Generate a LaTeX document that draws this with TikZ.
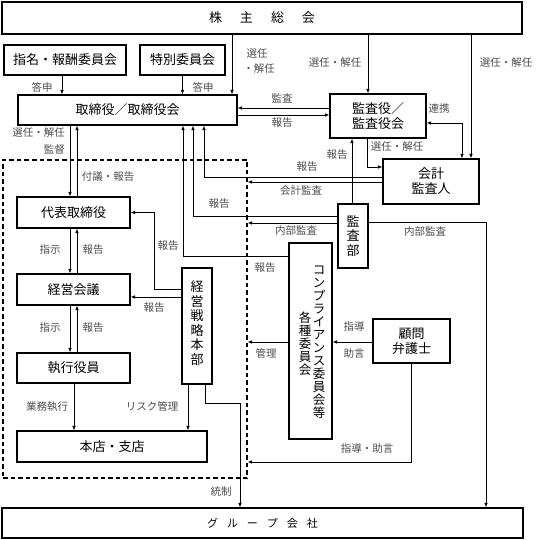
\documentclass[tikz,border=0pt]{standalone}
\usepackage{fontspec}
\setmainfont{Noto Sans CJK JP}
\usetikzlibrary{arrows.meta}
\begin{document}
\begin{tikzpicture}[x=1pt,y=-1pt,
  box/.style={draw, line width=1.1pt, inner sep=0pt, font=\fontsize{13}{15}\selectfont, align=center},
  vtext/.style={inner sep=0pt, align=center, font=\fontsize{13}{14.5}\selectfont},
  vtextc/.style={inner sep=0pt, align=center, font=\fontsize{12.5}{13}\selectfont},
  lbl/.style={font=\fontsize{10.5}{12}\selectfont, text=black!70, inner sep=0pt},
  arr/.style={line width=0.9pt, -{Latex[length=4.5pt,width=3.6pt]}},
  dbl/.style={line width=0.9pt, {Latex[length=4.5pt,width=3.6pt]}-{Latex[length=4.5pt,width=3.6pt]}},
  dashbox/.style={draw, line width=1.1pt, dash pattern=on 4.5pt off 3pt, inner sep=0pt}]
\useasboundingbox (0,0) rectangle (551,540);

% dashed group
\node[dashbox, minimum width=244, minimum height=318] (dash) at (125,319) {};

% boxes
\node[box, minimum width=520, minimum height=32] (sh) at (262,18) {株\hspace{18pt}主\hspace{18pt}総\hspace{18pt}会};
\node[box, minimum width=122, minimum height=30] (nom) at (65,60) {指名・報酬委員会};
\node[box, minimum width=85, minimum height=30] (tok) at (182.5,60) {特別委員会};
\node[box, minimum width=219, minimum height=30] (tor) at (127.5,110) {取締役／取締役会};
\node[box, minimum width=96, minimum height=44] (kan) at (378,116) {監査役／\\監査役会};
\node[box, minimum width=96, minimum height=45] (kai) at (431,181.5) {会計\\監査人};
\node[box, minimum width=113, minimum height=31] (daihyo) at (73.5,212.5) {代表取締役};
\node[box, minimum width=113, minimum height=31] (keiei) at (73.5,289.5) {経営会議};
\node[box, minimum width=113, minimum height=30] (shikko) at (73.5,368) {執行役員};
\node[box, minimum width=190, minimum height=31] (honten) at (112,446.5) {本店・支店};
\node[box, minimum width=30, minimum height=116] (senryaku) at (197,326) {};
\node[vtext] (senryakut) at (197,323) {経\\営\\戦\\略\\本\\部};
\node[box, minimum width=30, minimum height=64] (kansabu) at (353,236) {};
\node[vtext] (kansabut) at (353,236) {監\\査\\部};
\node[box, minimum width=43, minimum height=196] (comp) at (310.5,341) {};
\node[vtextc] (compa) at (319,342.5) {コ\\ン\\プ\\ラ\\イ\\ア\\ン\\ス\\委\\員\\会\\等};
\node[vtextc] (compb) at (305,343.5) {各\\種\\委\\員\\会};
\node[box, minimum width=77, minimum height=44] (bengo) at (411.5,341) {顧問\\弁護士};
\node[box, minimum width=521, minimum height=30, font=\fontsize{11}{13}\selectfont] (group) at (262.5,523) {グ\hspace{9pt}ル\hspace{9pt}ー\hspace{9pt}プ\hspace{9pt}会\hspace{9pt}社};

% connectors
\draw[arr] (nom.south -| 62,0) -- (tor.north -| 62,0);
\draw[arr] (tok.south) -- (tor.north -| tok.south);
\draw[arr] (sh.south -| 232,0) -- (tor.north -| 232,0);
\draw[arr] (sh.south -| 368,0) -- (kan.north -| 368,0);
\draw[arr] (sh.south -| 471,0) -- (kai.north -| 471,0);
\draw[arr] (kan.west |- 0,108) -- (tor.east |- 0,108);
\draw[arr] (tor.east |- 0,115) -- (kan.west |- 0,115);
\draw[dbl] (kan.east |- 0,123) -| (kai.north -| 462,0);
\draw[arr] (kan.south -| 367,0) |- (kai.west |- 0,167);
\draw[arr] (kansabu.north -| 352,0) -- (kan.south -| 352,0);
\draw[arr] (kai.west |- 0,177) -| (tor.south -| 204,0);
\draw[arr] (kai.west |- 0,182) -- (dash.east |- 0,182);
\draw[arr] (kansabu.west |- 0,216) -| (tor.south -| 193,0);
\draw[arr] (kansabu.west |- 0,223) -- (dash.east |- 0,223);
\draw[arr] (kansabu.east |- 0,222) -| (group.north -| 486,0);
\draw[arr] (comp.west |- 0,256) -| (tor.south -| 183,0);
\draw[arr] (comp.west |- 0,342) -- (dash.east |- 0,342);
\draw[arr] (bengo.west |- 0,342) -- (comp.east |- 0,342);
\draw[arr] (bengo.south) |- (dash.east |- 0,462);
\draw[arr] (tor.south -| 70,0) -- (daihyo.north -| 70,0);
\draw[arr] (daihyo.north -| 77,0) -- (tor.south -| 77,0);
\draw[arr] (daihyo.south -| 70,0) -- (keiei.north -| 70,0);
\draw[arr] (keiei.north -| 77,0) -- (daihyo.south -| 77,0);
\draw[arr] (keiei.south -| 70,0) -- (shikko.north -| 70,0);
\draw[arr] (shikko.north -| 77,0) -- (keiei.south -| 77,0);
\draw[arr] (senryaku.west |- 0,289) -- ++(-27,0) |- (daihyo.east);
\draw[arr] (senryaku.west |- 0,297) -- (keiei.east |- 0,297);
\draw[arr] (shikko.south -| 74,0) -- (honten.north -| 74,0);
\draw[arr] (senryaku.south -| 188,0) -- (honten.north -| 188,0);
\draw[arr] (senryaku.south -| 205,0) -- ++(0,19) -| (group.north -| 240,0);

% labels
\node[lbl] (l1) at (42,87) {答申};
\node[lbl] (l2) at (203,87) {答申};
\node[lbl] (l3) at (257,54) {選任};
\node[lbl] (l4) at (259,69) {・解任};
\node[lbl] (l5) at (335,63) {選任・解任};
\node[lbl] (l6) at (506,63) {選任・解任};
\node[lbl] (l7) at (282,98) {監査};
\node[lbl] (l8) at (282,123) {報告};
\node[lbl] (l9) at (439,109) {連携};
\node[lbl] (l10) at (397,147) {選任・解任};
\node[lbl] (l11) at (337,155) {報告};
\node[lbl] (l12) at (307,167) {報告};
\node[lbl] (l13) at (301,191) {会計監査};
\node[lbl] (l14) at (219,204) {報告};
\node[lbl] (l15) at (296,231) {内部監査};
\node[lbl] (l16) at (425,232) {内部監査};
\node[lbl] (l17) at (265,268) {報告};
\node[lbl] (l18) at (266,353) {管理};
\node[lbl] (l19) at (354,326) {指導};
\node[lbl] (l20) at (354,354) {助言};
\node[lbl] (l21) at (367,449) {指導・助言};
\node[lbl, anchor=east] (l22) at (65,133) {選任・解任};
\node[lbl, anchor=east] (l23) at (65,150) {監督};
\node[lbl] (l24) at (108,177) {付議・報告};
\node[lbl] (l25) at (50,250) {指示};
\node[lbl] (l26) at (93,250) {報告};
\node[lbl] (l27) at (50,328) {指示};
\node[lbl] (l28) at (93,328) {報告};
\node[lbl] (l29) at (168,246) {報告};
\node[lbl] (l30) at (154,308) {報告};
\node[lbl] (l31) at (47,407) {業務執行};
\node[lbl] (l32) at (152,406) {リスク管理};
\node[lbl] (l33) at (221,492) {統制};
\end{tikzpicture}
\end{document}
